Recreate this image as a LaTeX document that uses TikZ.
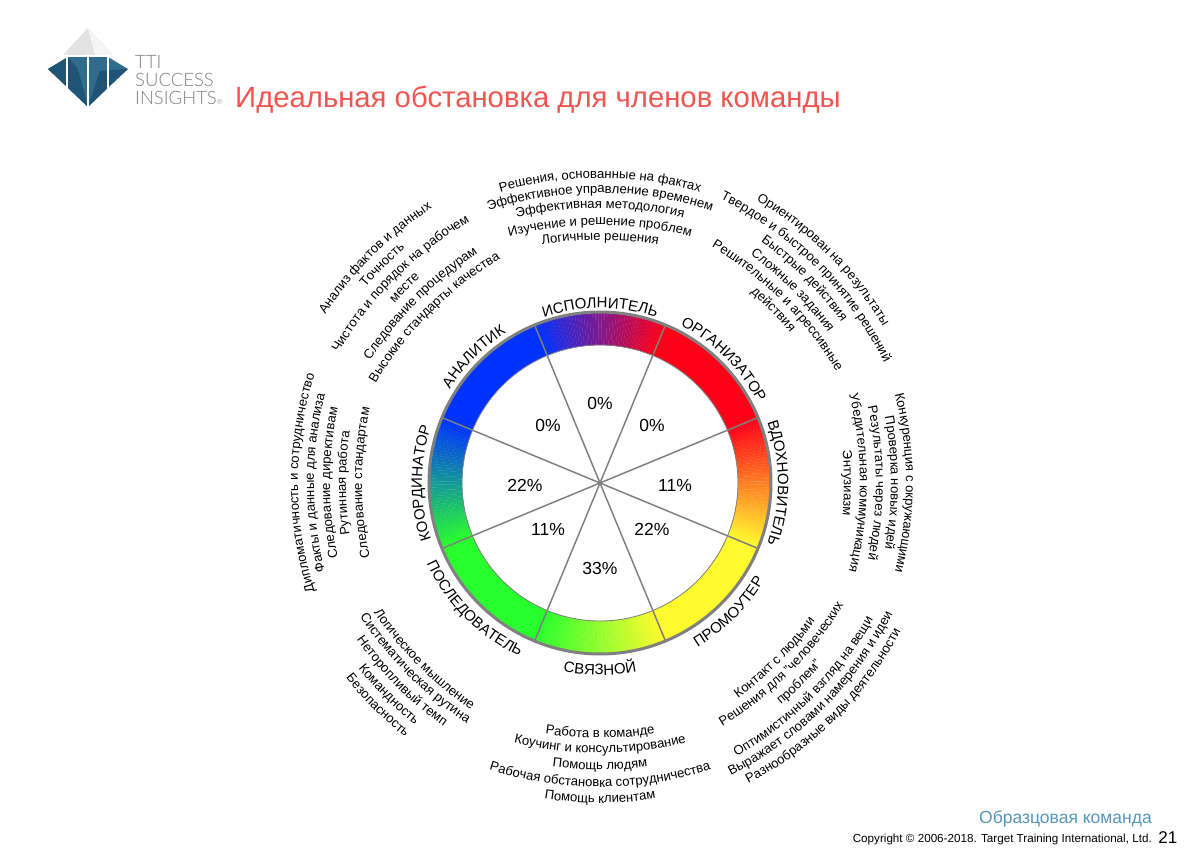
\documentclass[tikz,border=0pt]{standalone}
\usepackage{fontspec}
\setmainfont{Liberation Sans}
\newfontfamily\logofont{Lato Light}
\usetikzlibrary{decorations.text}
\definecolor{ringblue}{RGB}{0,50,255}
\definecolor{ringred}{RGB}{255,0,25}
\definecolor{ringyellow}{RGB}{255,250,45}
\definecolor{ringgreen}{RGB}{40,255,45}
\definecolor{ringgray}{RGB}{128,128,128}
\definecolor{titlered}{RGB}{240,85,80}
\definecolor{footblue}{RGB}{85,150,185}
\definecolor{logoblue}{RGB}{48,108,140}
\definecolor{logodark}{RGB}{32,84,116}
\definecolor{logogray}{RGB}{125,130,135}
\tikzset{>=stealth,
pct/.style={font=\fontsize{17.5}{17.5}\selectfont,inner sep=0pt},
spoke/.style={ringgray,line width=1.5pt},
facet/.style={white,line width=1.6pt},
logotext/.style={font=\logofont\fontsize{18.5}{18.5}\selectfont,text=logogray,anchor=base west,inner sep=0pt}}
\newcommand{\listfont}{\fontsize{13.1}{13.1}\selectfont}
\newcommand{\rolefont}{\fontsize{15}{15}\selectfont}
% arc texts: angle, distance of the middle from the centre, text
\newcommand{\cwline}[3]{\path[shift={(#1:#2-360)},decorate,decoration={text along path,text align=center,text={|\listfont|#3}}] (#1+35:360) arc[start angle=#1+35,end angle=#1-35,radius=360];}
\newcommand{\ccwline}[3]{\path[shift={(#1:#2-360)},decorate,decoration={text along path,text align=center,text={|\listfont|#3}}] (#1-35:360) arc[start angle=#1-35,end angle=#1+35,radius=360];}
\newcommand{\cwrole}[3]{\path[decorate,decoration={text along path,text align=center,text={|\rolefont|#3}}] (#1+40:#2) arc[start angle=#1+40,end angle=#1-40,radius=#2];}
\newcommand{\ccwrole}[3]{\path[decorate,decoration={text along path,text align=center,text={|\rolefont|#3}}] (#1-40:#2) arc[start angle=#1-40,end angle=#1+40,radius=#2];}
% ring sector fading from colour to colour
\newcommand{\ringfade}[4]{\foreach \i in {0,...,44}{
\pgfmathsetmacro\aa{#1+(#2-#1)*\i/45}
\pgfmathsetmacro\ab{#1+(#2-#1)*(\i+1)/45}
\pgfmathsetmacro\pp{100*(\i+.5)/45}
\filldraw[draw=#4!\pp!#3,fill=#4!\pp!#3,line width=.2pt] (\aa:138) arc[start angle=\aa,end angle=\ab,radius=138] -- (\ab:170) arc[start angle=\ab,end angle=\aa,radius=170] -- cycle;}}
\newcommand{\ringsolid}[3]{\filldraw[draw=#3,fill=#3,line width=.2pt] (#1:138) arc[start angle=#1,end angle=#2,radius=138] -- (#2:170) arc[start angle=#2,end angle=#1,radius=170] -- cycle;}

\begin{document}
\begin{tikzpicture}[x=1pt,y=1pt]
\useasboundingbox (-600,-382) rectangle (600,483);
\coordinate (O) at (0,0);

% ring
\ringsolid{157.5}{112.5}{ringblue}
\ringfade{112.5}{67.5}{ringblue}{ringred}
\ringsolid{67.5}{22.5}{ringred}
\ringfade{22.5}{-22.5}{ringred}{ringyellow}
\ringsolid{-22.5}{-67.5}{ringyellow}
\ringfade{-67.5}{-112.5}{ringyellow}{ringgreen}
\ringsolid{-112.5}{-157.5}{ringgreen}
\ringfade{-157.5}{-202.5}{ringgreen}{ringblue}
\draw[ringgray,line width=.8pt] (O) circle[radius=138];
\draw[ringgray,line width=3pt] (O) circle[radius=171];
\foreach \a in {22.5,67.5,...,337.5}
\draw[spoke] (O) -- (\a:170);

% shares
\node[pct] (pctA) at (0,80) {0\%};
\node[pct] (pctB) at (52,58) {0\%};
\node[pct] (pctC) at (75,-2) {11\%};
\node[pct] (pctD) at (52,-46) {22\%};
\node[pct] (pctE) at (0,-85) {33\%};
\node[pct] (pctF) at (-52,-46) {11\%};
\node[pct] (pctG) at (-75,-2) {22\%};
\node[pct] (pctH) at (-52,58) {0\%};

% roles
\cwrole{90}{175}{ИСПОЛНИТЕЛЬ}
\cwrole{45}{177}{ОРГАНИЗАТОР}
\cwrole{0}{178}{ВДОХНОВИТЕЛЬ}
\ccwrole{-45}{191}{ПРОМОУТЕР}
\ccwrole{-90}{192}{СВЯЗНОЙ}
\ccwrole{-135}{191}{ПОСЛЕДОВАТЕЛЬ}
\cwrole{180}{178}{КООРДИНАТОР}
\cwrole{135}{177}{АНАЛИТИК}

% top
\cwline{90}{243}{Логичные решения}
\cwline{90}{258}{Изучение и решение проблем}
\cwline{90}{275}{Эффективная методология}
\cwline{90}{290}{Эффективное управление временем}
\cwline{90}{305}{Решения, основанные на фактах}
% top right
\cwline{45}{242}{действия}
\cwline{45}{257}{Решительные и агрессивные}
\cwline{45}{272}{Сложные задания}
\cwline{45}{289}{Быстрые действия}
\cwline{45}{305}{Твердое и быстрое принятие решений}
\cwline{45}{322}{Ориентирован на результаты}
% right
\cwline{0}{244}{Энтузиазм}
\cwline{0}{260}{Убедительная коммуникация}
\cwline{0}{276}{Результаты через людей}
\cwline{0}{291}{Проверка новых идей}
\cwline{0}{306}{Конкуренция с окружающими}
% bottom right
\ccwline{-45}{254}{Контакт с людьми}
\ccwline{-45}{269}{Решения для "человеческих}
\ccwline{-45}{286}{проблем"}
\ccwline{-45}{303}{Оптимистичный взгляд на вещи}
\ccwline{-45}{318}{Выражает словами намерения и идеи}
\ccwline{-45}{334}{Разнообразные виды деятельности}
% bottom
\ccwline{-90}{255}{Работа в команде}
\ccwline{-90}{270}{Коучинг и консультирование}
\ccwline{-90}{287}{Помощь людям}
\ccwline{-90}{304}{Рабочая обстановка сотрудничества}
\ccwline{-90}{320}{Помощь клиентам}
% bottom left
\ccwline{-135}{258}{Логическое мышление}
\ccwline{-135}{272}{Систематическая рутина}
\ccwline{-135}{288}{Неторопливый темп}
\ccwline{-135}{304}{Командность}
\ccwline{-135}{320}{Безопасность}
% left
\cwline{180}{238}{Следование стандартам}
\cwline{180}{254}{Рутинная работа}
\cwline{180}{270}{Следование директивам}
\cwline{180}{286}{Факты и данные для анализа}
\cwline{180}{302}{Дипломатичность и сотрудничество}
% top left
\cwline{135}{240}{Высокие стандарты качества}
\cwline{135}{257}{Следование процедурам}
\cwline{135}{273}{месте}
\cwline{135}{289}{Чистота и порядок на рабочем}
\cwline{135}{305}{Точность}
\cwline{135}{321}{Анализ фактов и данных}

% logo
\fill[gray!22] (-512,455) -- (-537,428) -- (-487,428) -- cycle;
\fill[gray!8] (-512,455) -- (-505,428) -- (-487,428) -- cycle;
\fill[logoblue] (-532,426) -- (-492,426) -- (-472,414) -- (-512,376) -- (-552,414) -- cycle;
\fill[logodark] (-532,426) -- (-552,414) -- (-512,376) -- (-522,414) -- cycle;
\fill[logodark] (-512,376) -- (-500,412) -- (-472,414) -- (-490,398) -- cycle;
\draw[facet] (-533,429) -- (-533,392);
\draw[facet] (-512,429) -- (-512,376);
\draw[facet] (-492,429) -- (-492,392);
\draw[facet] (-540,427) -- (-484,427);
\node[logotext] (logoA) at (-465,414) {TTI};
\node[logotext] (logoB) at (-465,396) {SUCCESS};
\node[logotext] (logoC) at (-465,378) {INSIGHTS\fontsize{7}{7}\selectfont®};

% texts on the page
\node[font=\fontsize{29.3}{29.3}\selectfont,text=titlered,anchor=base west,inner sep=0pt] (title) at (-365,375.5) {Идеальная обстановка для членов команды};
\node[font=\fontsize{17.5}{17.5}\selectfont,text=footblue,anchor=base east,inner sep=0pt] (team) at (552,-340) {Образцовая команда};
\node[font=\fontsize{11.66}{11.66}\selectfont,anchor=base east,inner sep=0pt] (copy) at (552,-359) {Copyright © 2006-2018. Target Training International, Ltd.};
\node[font=\fontsize{17}{17}\selectfont,anchor=base east,inner sep=0pt] (page) at (577.5,-360) {21};
\end{tikzpicture}
\end{document}
